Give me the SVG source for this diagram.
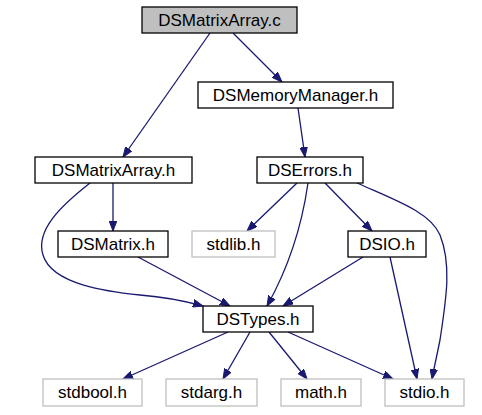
<svg xmlns="http://www.w3.org/2000/svg" width="482" height="415" viewBox="0 0 482 415">
<style>
  rect { stroke-width: 1.3; }
  .main rect { fill: #ffffff; stroke: #000000; }
  .root rect { fill: #bfbfbf; stroke: #000000; }
  .ext rect { fill: #ffffff; stroke: #bfbfbf; }
  text { font-family: "Liberation Sans", Arial, Helvetica, sans-serif; font-size: 17px; fill: #000000; text-anchor: middle; }
  .edges path { fill: none; stroke: #191970; stroke-width: 1.3; marker-end: url(#arrow); }
</style>
<defs>
  <marker id="arrow" viewBox="0 -4 11 8" refX="10" refY="0" markerWidth="11" markerHeight="8" markerUnits="userSpaceOnUse" orient="auto">
    <path d="M0,-3.8 L10,0 L0,3.8 z" fill="#191970" stroke="#191970" stroke-width="1"/>
  </marker>
</defs>
<rect width="482" height="415" fill="#ffffff"/>
<g class="edges" id="edges">
  <path d="M210,33 L123,157"/>
  <path d="M233,33 L282,82"/>
  <path d="M298,108 L305,157"/>
  <path d="M113,183 L113,231"/>
  <path d="M90,183 C62,205 35,230 43,255 C52,285 110,292 140,295 C165,297 185,301 203,306"/>
  <path d="M138,257 L230,306"/>
  <path d="M297,183 L247,231"/>
  <path d="M308,183 C302,225 290,265 267,306"/>
  <path d="M325,183 L372,231"/>
  <path d="M357,183 C395,200 430,212 440,235 C452,265 446,300 440,340 C437,355 434,368 432,379"/>
  <path d="M363,257 L283,306"/>
  <path d="M390,257 L417,379"/>
  <path d="M228,332 L123,379"/>
  <path d="M250,332 L223,379"/>
  <path d="M269,332 L307,379"/>
  <path d="M288,332 L393,379"/>
</g>
<g id="node-DSMatrixArray-c" class="root"><rect x="142" y="7" width="155" height="26"/><text x="219.5" y="26">DSMatrixArray.c</text></g>
<g id="node-DSMemoryManager-h" class="main"><rect x="198" y="82" width="195" height="26"/><text x="295.5" y="101">DSMemoryManager.h</text></g>
<g id="node-DSMatrixArray-h" class="main"><rect x="35" y="157" width="157" height="26"/><text x="113.5" y="176">DSMatrixArray.h</text></g>
<g id="node-DSErrors-h" class="main"><rect x="257" y="157" width="106" height="26"/><text x="310" y="176">DSErrors.h</text></g>
<g id="node-DSMatrix-h" class="main"><rect x="58" y="231" width="110" height="26"/><text x="113" y="250">DSMatrix.h</text></g>
<g id="node-stdlib-h" class="ext"><rect x="192" y="231" width="83" height="26"/><text x="233.5" y="250">stdlib.h</text></g>
<g id="node-DSIO-h" class="main"><rect x="348" y="231" width="78" height="26"/><text x="387" y="250">DSIO.h</text></g>
<g id="node-DSTypes-h" class="main"><rect x="203" y="306" width="110" height="26"/><text x="258" y="325">DSTypes.h</text></g>
<g id="node-stdbool-h" class="ext"><rect x="43" y="379" width="99" height="27"/><text x="92.5" y="398">stdbool.h</text></g>
<g id="node-stdarg-h" class="ext"><rect x="166" y="379" width="91" height="27"/><text x="211.5" y="398">stdarg.h</text></g>
<g id="node-math-h" class="ext"><rect x="281" y="379" width="80" height="27"/><text x="321" y="398">math.h</text></g>
<g id="node-stdio-h" class="ext"><rect x="385" y="379" width="79" height="27"/><text x="424.5" y="398">stdio.h</text></g>
</svg>
